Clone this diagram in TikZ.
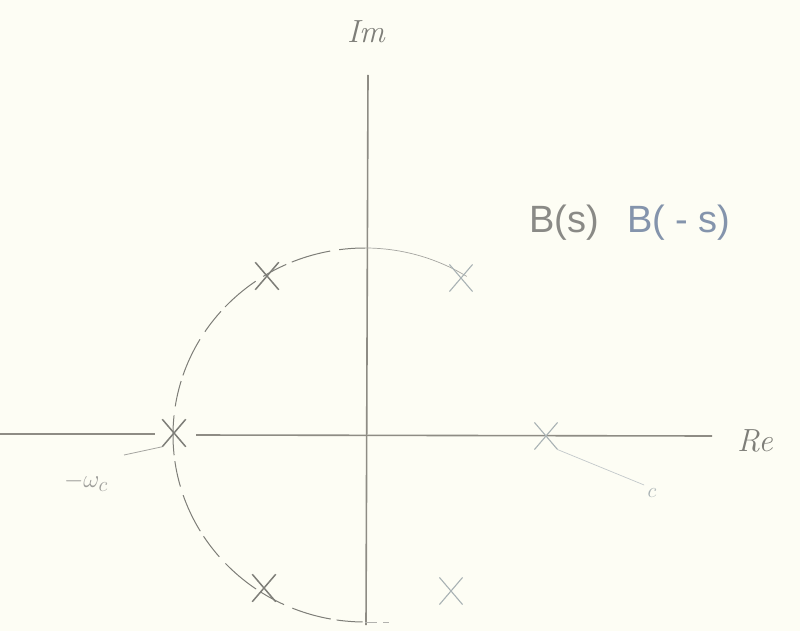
\documentclass[tikz,border=0pt]{standalone}
\usepackage{fontspec}
\setsansfont{Liberation Sans}
\usetikzlibrary{shapes.misc}
\definecolor{paper}{HTML}{FDFDF4}
\definecolor{axisc}{HTML}{8E8C84}
\definecolor{pencil}{HTML}{7E7E78}
\definecolor{faint}{HTML}{A9B2B4}
\definecolor{bsc}{HTML}{8A8A86}
\definecolor{bmsc}{HTML}{8494AC}
\tikzset{
  axis/.style={draw=axisc, line width=1.6pt},
  pole/.style={cross out, draw=pencil, line width=1.5pt, minimum width=22pt, minimum height=26pt, inner sep=0pt},
  farpole/.style={pole, draw=faint, line width=1.1pt},
  arcl/.style={draw=pencil, line width=1pt, dash pattern=on 26pt off 9pt on 40pt off 6pt},
  arcr/.style={draw=pencil!70, line width=0.7pt},
  hand/.style={text=pencil, font=\itshape\fontsize{32}{32}\selectfont},
  label/.style={font=\sffamily\fontsize{38}{38}\selectfont, inner sep=0pt}
}
\begin{document}
\begin{tikzpicture}[x=1pt,y=-1pt]
\fill[paper] (0,0) rectangle (800,631);
\useasboundingbox (0,0) rectangle (800,631);
\coordinate (o) at (365,435);
\coordinate (ytop) at (368,75);
\coordinate (ybot) at (366,625);
\coordinate (xl) at (0,434);
\coordinate (xlgap) at (155,434);
\coordinate (xrgap) at (196,435);
\coordinate (xr) at (712,436);
% axes
\draw[axis] (ytop) -- (ybot);
\draw[axis] (xl) -- (xlgap);
\draw[axis] (xrgap) -- (xr);
% circle arcs (y axis is flipped: 270 deg points up)
\draw[arcl] (o) ++(270:187) arc[start angle=270, end angle=90, x radius=192, y radius=187];
\draw[arcr] (o) ++(270:187) arc[start angle=270, end angle=302, x radius=192, y radius=187];
\draw[draw=pencil!60, line width=0.8pt, dash pattern=on 12pt off 6pt] (o) ++(90:187) -- ++(24,0);
% poles
\node[pole] (p1) at (267,276) {};
\node[pole] (p2) at (174,433) {};
\node[pole] (p3) at (264,588) {};
\node[farpole] (q1) at (461,278) {};
\node[farpole] (q2) at (546,436) {};
\node[farpole] (q3) at (451,591) {};
% labels
\node[hand] (im) at (366,32) {Im};
\node[hand] (re) at (755,441) {Re};
\node[label, text=bsc, anchor=base west] (bs) at (529,233) {B(s)};
\node[label, text=bmsc, anchor=base west] (bms) at (627,233) {B( - s)};
\node[text=pencil!75, font=\fontsize{28}{28}\selectfont] (wl) at (86,482) {$-\omega_{c}$};
\coordinate (wlend) at (124,455);
\draw[draw=pencil!70, line width=0.8pt] (wlend) -- (p2.south west);
\node[text=faint, font=\fontsize{22}{22}\selectfont] (wr) at (652,493) {$c$};
\draw[draw=faint!70, line width=0.7pt] (q2.south east) -- (wr.north west);
\end{tikzpicture}
\end{document}
